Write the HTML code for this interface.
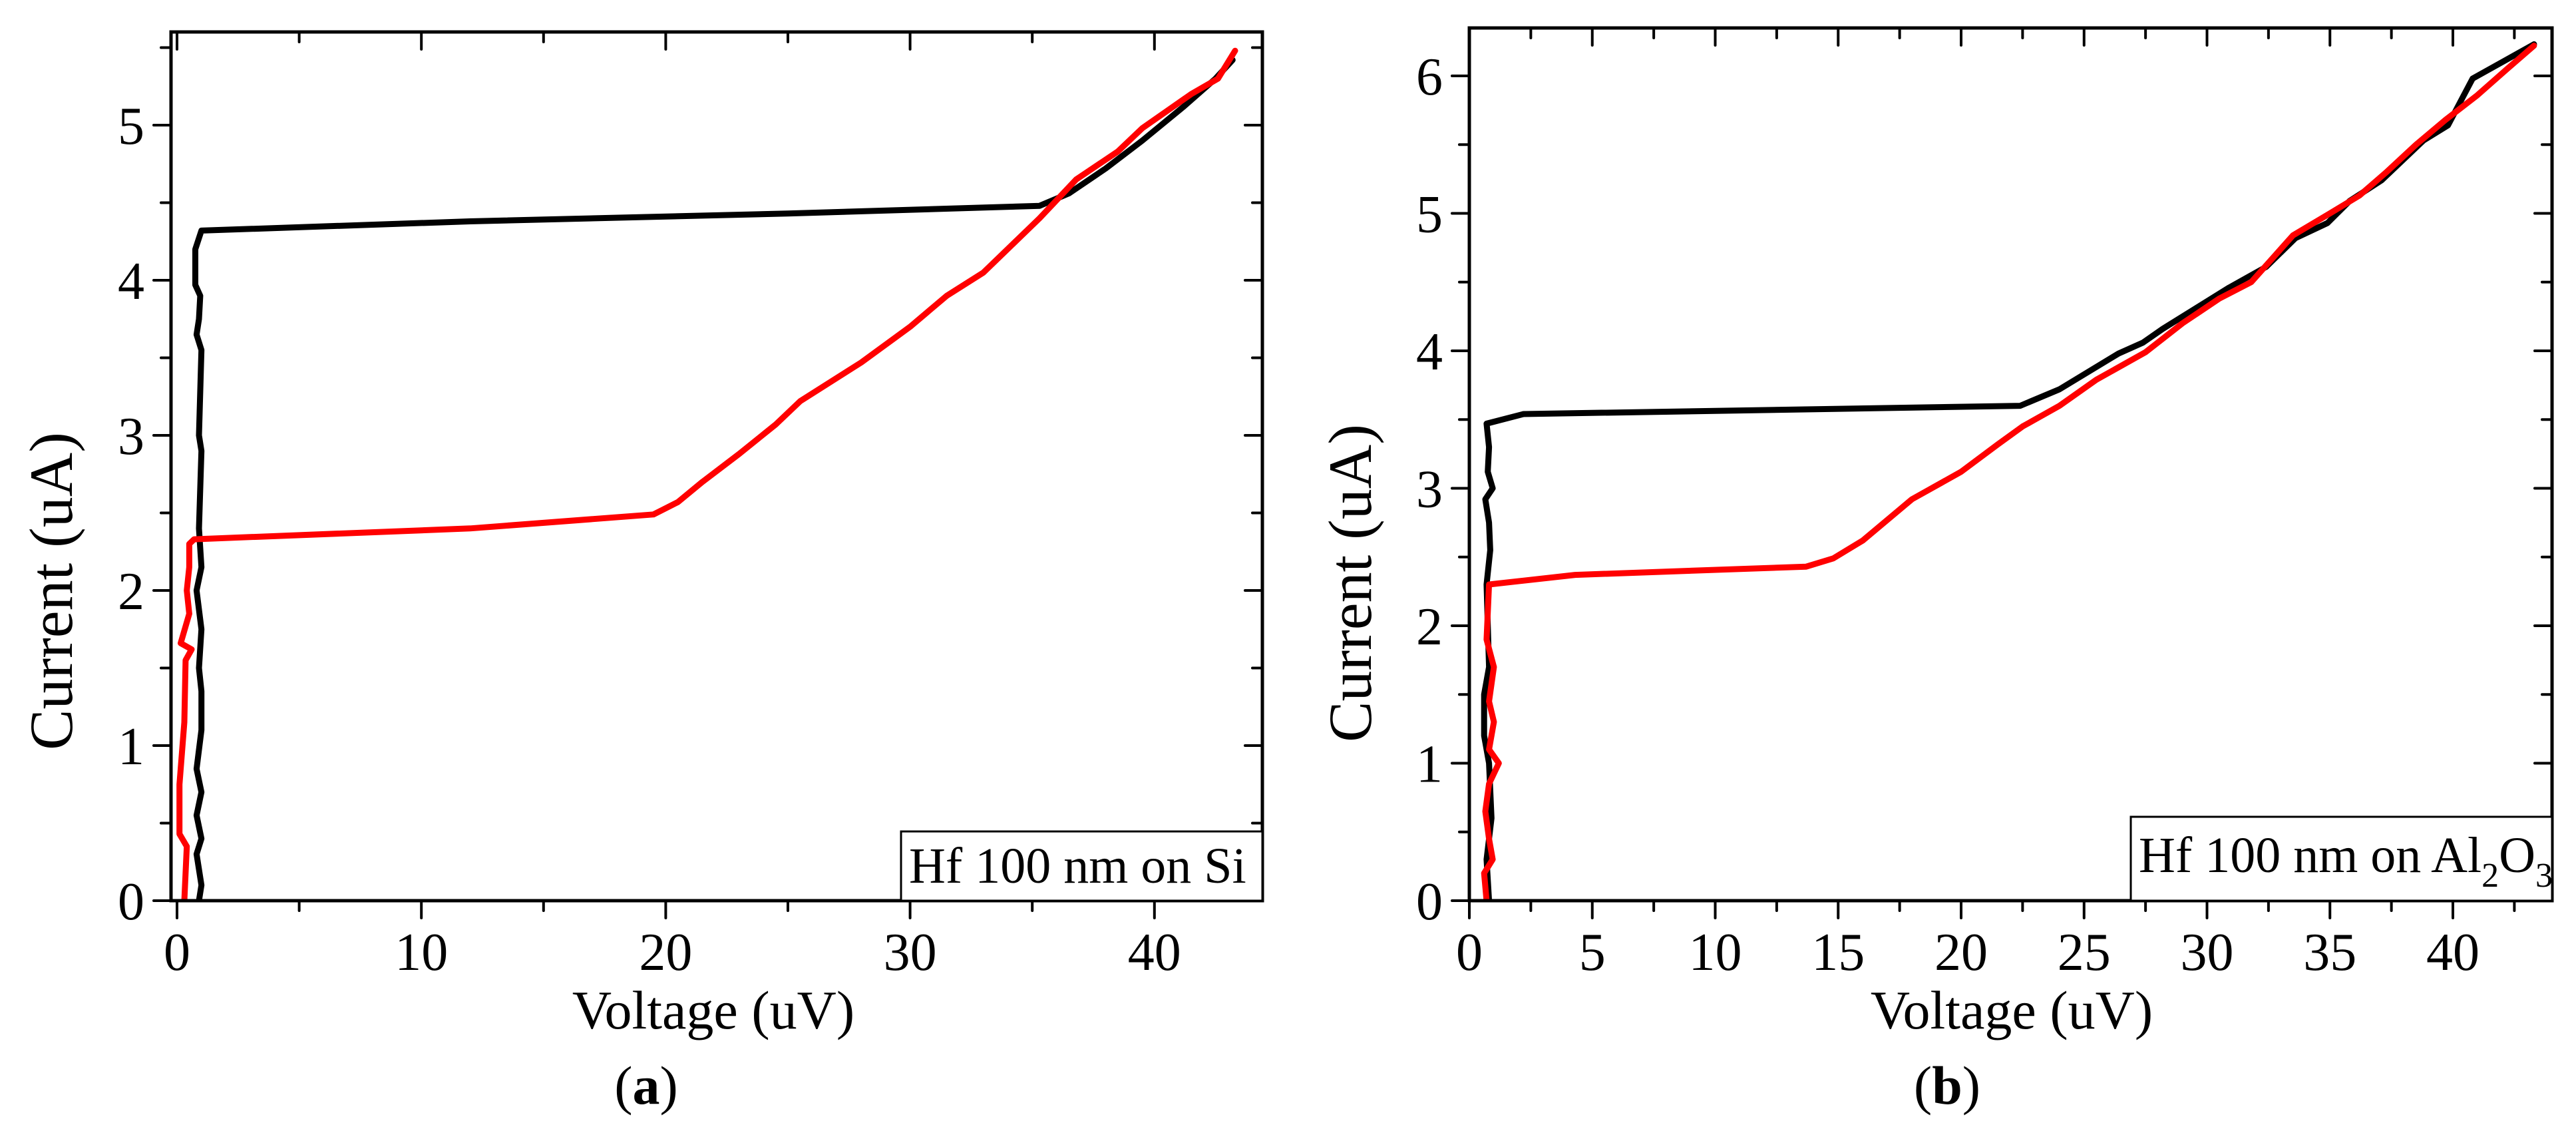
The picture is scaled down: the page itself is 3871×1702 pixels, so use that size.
<!DOCTYPE html>
<html><head><meta charset="utf-8"><style>
html,body{margin:0;padding:0;background:#fff;}
svg{display:block;font-family:"Liberation Serif",serif;}
</style></head><body>
<svg id="fig" width="3871" height="1702" viewBox="0 0 3871 1702" xmlns="http://www.w3.org/2000/svg"></svg>
<script>
// ---- Panel (a) data: Hf 100 nm on Si ----
const aBlackV = [0.9,1.0,0.8,1.0,0.8,1.0,0.8,1.0,1.0,0.9,1.0,0.8,1.0,0.9,1.0,0.9,1.0,0.8,0.9,0.95,0.75,0.75,1.0,12,25,35.3,36.5,38,39.5,41.2,42.5,43.2];
const aBlackI = [0,0.1,0.3,0.4,0.55,0.7,0.85,1.1,1.35,1.5,1.75,2.0,2.15,2.4,2.9,3.0,3.55,3.65,3.75,3.9,3.97,4.2,4.32,4.38,4.43,4.48,4.56,4.72,4.9,5.12,5.3,5.42];
const aRedV = [0.3,0.4,0.1,0.1,0.3,0.35,0.6,0.15,0.5,0.4,0.5,0.5,0.7,12,19.5,20.5,21.5,23,24.5,25.5,28,30,31.5,33,35.3,36.8,38.5,39.5,41.5,42.6,43.3];
const aRedI = [0,0.35,0.43,0.75,1.15,1.55,1.62,1.66,1.85,2.0,2.15,2.3,2.33,2.4,2.49,2.57,2.7,2.88,3.07,3.22,3.47,3.7,3.9,4.05,4.4,4.65,4.83,4.98,5.2,5.3,5.48];
const aXTicks = [0,10,20,30,40];
const aYTicks = [0,1,2,3,4,5];
// ---- Panel (b) data: Hf 100 nm on Al2O3 ----
const bBlackV = [0.8,0.7,0.9,0.8,0.6,0.6,0.8,0.7,0.85,0.8,0.65,0.95,0.75,0.8,0.7,2.2,22.4,24,26.4,27.4,28.2,30.9,32.4,33.6,34.9,35.8,37.1,38.8,39.8,40.8,42.1,43.3];
const bBlackI = [0,0.3,0.6,1.0,1.2,1.5,1.7,2.3,2.55,2.75,2.92,3.0,3.12,3.3,3.47,3.54,3.6,3.72,3.98,4.06,4.16,4.46,4.61,4.82,4.93,5.09,5.24,5.53,5.64,5.98,6.11,6.23];
const bRedV = [0.7,0.6,0.95,0.8,0.65,0.8,1.2,0.8,1.0,0.8,1.0,0.7,0.8,4.3,13.7,14.8,16,18,20,21.5,22.5,24,25.5,27.5,29,30.5,31.8,33.5,35,36.2,37.3,38.5,39.7,41,42.2,43.3];
const bRedI = [0,0.2,0.3,0.45,0.65,0.85,1.0,1.1,1.3,1.45,1.7,1.9,2.3,2.37,2.43,2.49,2.62,2.92,3.12,3.32,3.45,3.6,3.79,3.99,4.2,4.38,4.5,4.84,5.0,5.13,5.3,5.5,5.68,5.86,6.05,6.22];
const bXTicks = [0,5,10,15,20,25,30,35,40];
const bYTicks = [0,1,2,3,4,5,6];

const NS = "http://www.w3.org/2000/svg";
const svg = document.getElementById('fig');
function mk(tag, attrs, parent){
  const e = document.createElementNS(NS, tag);
  for (const k in attrs) e.setAttribute(k, attrs[k]);
  (parent||svg).appendChild(e);
  return e;
}

function panel(cfg){
  const g = mk('g', {});
  
  
  const X = v => cfg.x0 + v * cfg.sx;
  const Y = v => cfg.y0 - v * cfg.sy;
  const tg = mk('g', {stroke:'#000','stroke-width':4,'stroke-linecap':'round'}, g);
  
  
  for (let v = 0; v <= cfg.xmax + 1e-9; v += cfg.xminor){
    const major = Math.abs(v/cfg.xmajor - Math.round(v/cfg.xmajor)) < 1e-6;
    const L = major ? 26 : 15;
    const px = X(v);
    if (px > cfg.right - 2) continue;
    mk('line', {x1:px,y1:cfg.bottom,x2:px,y2:cfg.bottom+L}, tg);
    mk('line', {x1:px,y1:cfg.top,x2:px,y2:cfg.top+L}, tg);
  }
  for (let v = 0; v <= cfg.ymax + 1e-9; v += 0.5){
    const major = Math.abs(v - Math.round(v)) < 1e-6;
    const L = major ? 26 : 15;
    const py = Y(v);
    if (py < cfg.top + 2) continue;
    mk('line', {x1:cfg.left,y1:py,x2:cfg.left-L,y2:py}, tg);
    mk('line', {x1:cfg.right,y1:py,x2:cfg.right-L,y2:py}, tg);
  }
  cfg.xticks.forEach(v => {
    const t = mk('text', {x:X(v), y:1457, 'font-size':80, 'text-anchor':'middle'}, g);
    
    
    t.textContent = v;
  });
  cfg.yticks.forEach(v => {
    const t = mk('text', {x:cfg.left-40, y:Y(v)+28, 'font-size':80, 'text-anchor':'end'}, g);
    
    
    t.textContent = v;
  });
  const clip = mk('clipPath', {id: cfg.name + '-clip'}, g);
  mk('rect', {x:cfg.left, y:cfg.top, width:cfg.right-cfg.left, height:cfg.bottom-cfg.top}, clip);
  const series = [[cfg.bv, cfg.bi, '#000', 'black-curve'], [cfg.rv, cfg.ri, '#ff0000', 'red-curve']];
  series.forEach(s => {
    const pts = s[0].map((v,i) => X(v).toFixed(1) + ',' + Y(s[1][i]).toFixed(1)).join(' ');
    const p = mk('polyline', {points:pts, fill:'none', stroke:s[2], 'stroke-width':9, 'stroke-linejoin':'round', 'stroke-linecap':'round', 'clip-path':'url(#' + cfg.name + '-clip)'}, g);
    
    
  });
  const fr = mk('rect', {x:cfg.left, y:cfg.top, width:cfg.right-cfg.left, height:cfg.bottom-cfg.top, fill:'none', stroke:'#000', 'stroke-width':5}, g);
  
  
  const lb = mk('rect', {x:cfg.lx, y:cfg.ly, width:cfg.right-cfg.lx, height:cfg.bottom-cfg.ly, fill:'#fff', stroke:'#000', 'stroke-width':3}, g);
  
  
  const lt = mk('text', {x:cfg.lx+12, y:cfg.ltY, 'font-size':76}, g);
  
  
  lt.innerHTML = cfg.ltext;
  const xt = mk('text', {x:cfg.xtx, y:1545, 'font-size':82, 'text-anchor':'middle'}, g);
  
  
  xt.textContent = 'Voltage (uV)';
  const yt = mk('text', {x:0, y:0, 'font-size':92, 'text-anchor':'middle', transform:'translate(' + cfg.ytx + ',' + cfg.yty + ') rotate(-90)'}, g);
  
  
  yt.textContent = 'Current (uA)';
  const cap = mk('text', {x:cfg.capx, y:1658, 'font-size':82, 'text-anchor':'middle'}, g);
  
  
  cap.innerHTML = '(<tspan font-weight="bold">' + cfg.cap + '</tspan>)';
}

panel({name:'panel-a', left:257, right:1897, top:48, bottom:1353, x0:266, sx:36.72, y0:1353, sy:233,
  xmax:44.4, ymax:5.6, xmajor:10, xminor:5, xticks:aXTicks, yticks:aYTicks,
  bv:aBlackV, bi:aBlackI, rv:aRedV, ri:aRedI,
  lx:1354, ly:1249, ltY:1326, ltext:'Hf 100 nm on Si',
  xtx:1072, ytx:108, yty:888, capx:971, cap:'a'});

panel({name:'panel-b', left:2208, right:3835, top:42, bottom:1353, x0:2208, sx:36.95, y0:1353, sy:206.5,
  xmax:44.0, ymax:6.35, xmajor:5, xminor:2.5, xticks:bXTicks, yticks:bYTicks,
  bv:bBlackV, bi:bBlackI, rv:bRedV, ri:bRedI,
  lx:3202, ly:1227, ltY:1310, ltext:'Hf 100 nm on Al<tspan font-size="52" dy="22">2</tspan><tspan dy="-22">O</tspan><tspan font-size="52" dy="22">3</tspan>',
  xtx:3023, ytx:2060, yty:876, capx:2926, cap:'b'});
</script>
</body></html>
